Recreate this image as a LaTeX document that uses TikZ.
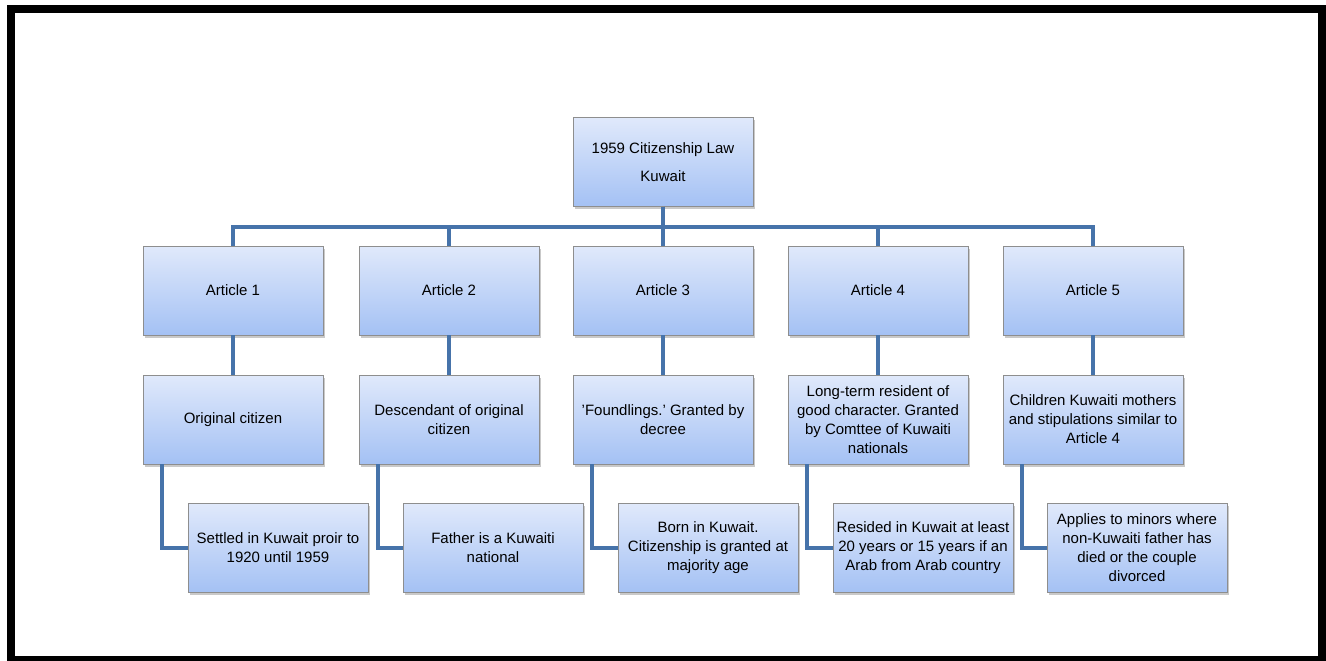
\documentclass[tikz,border=0pt]{standalone}
\usepackage{fontspec}
\setmainfont{Liberation Sans}
\usetikzlibrary{shadows}
\frenchspacing
\definecolor{conncol}{HTML}{4673AA}
\definecolor{boxtop}{HTML}{E0E9FB}
\definecolor{boxbot}{HTML}{A4C1F4}
\definecolor{boxedge}{HTML}{8E8E8E}
\tikzset{
  box/.style={rectangle, draw=boxedge, line width=0.8pt, top color=boxtop, bottom color=boxbot,
    minimum width=180pt, minimum height=89pt, inner sep=2pt, align=center,
    font=\fontsize{15}{19}\selectfont,
    drop shadow={shadow xshift=2pt, shadow yshift=-2.5pt, opacity=0.35, fill=black!60}},
  conn/.style={draw=conncol, line width=4pt, line join=miter}
}
\begin{document}
\begin{tikzpicture}[x=1pt,y=-1pt]
\useasboundingbox (0,0) rectangle (1326,661);
\fill[white] (0,0) rectangle (1326,661);
\draw[line width=8pt] (11,9) rectangle (1322,660);
% root
\node[box, font=\fontsize{15}{28}\selectfont] (law) at (663,162) {1959 Citizenship Law\\Kuwait};
% articles
\node[box] (a1) at (233,290.5) {Article 1};
\node[box] (a2) at (449,290.5) {Article 2};
\node[box] (a3) at (663,290.5) {Article 3};
\node[box] (a4) at (878,290.5) {Article 4};
\node[box] (a5) at (1093,290.5) {Article 5};
% second row
\node[box] (b1) at (233,419.5) {Original citizen};
\node[box] (b2) at (449,419.5) {Descendant of original\\citizen};
\node[box] (b3) at (663,419.5) {'Foundlings.' Granted by\\decree};
\node[box] (b4) at (878,419.5) {Long-term resident of\\good character. Granted\\by Comttee of Kuwaiti\\nationals};
\node[box] (b5) at (1093,419.5) {Children Kuwaiti mothers\\and stipulations similar to\\Article 4};
% third row
\node[box] (c1) at (278,548) {Settled in Kuwait proir to\\1920 until 1959};
\node[box] (c2) at (493,548) {Father is a Kuwaiti\\national};
\node[box] (c3) at (708,548) {Born in Kuwait.\\Citizenship is granted at\\majority age};
\node[box] (c4) at (923,548) {Resided in Kuwait at least\\20 years or 15 years if an\\Arab from Arab country};
\node[box] (c5) at (1137,548) {Applies to minors where\\non-Kuwaiti father has\\died or the couple\\divorced};
% connectors
\foreach \a in {a1,a2,a3,a4,a5}{
  \draw[conn] (law.south) -- ++(0,20) -| (\a.north);
}
\foreach \a/\b in {a1/b1,a2/b2,a3/b3,a4/b4,a5/b5}{
  \draw[conn] (\a.south) -- (\b.north);
}
\foreach \b/\c in {b1/c1,b2/c2,b3/c3,b4/c4,b5/c5}{
  \draw[conn] ([xshift=19pt]\b.south west) |- (\c.west);
}
\end{tikzpicture}
\end{document}
